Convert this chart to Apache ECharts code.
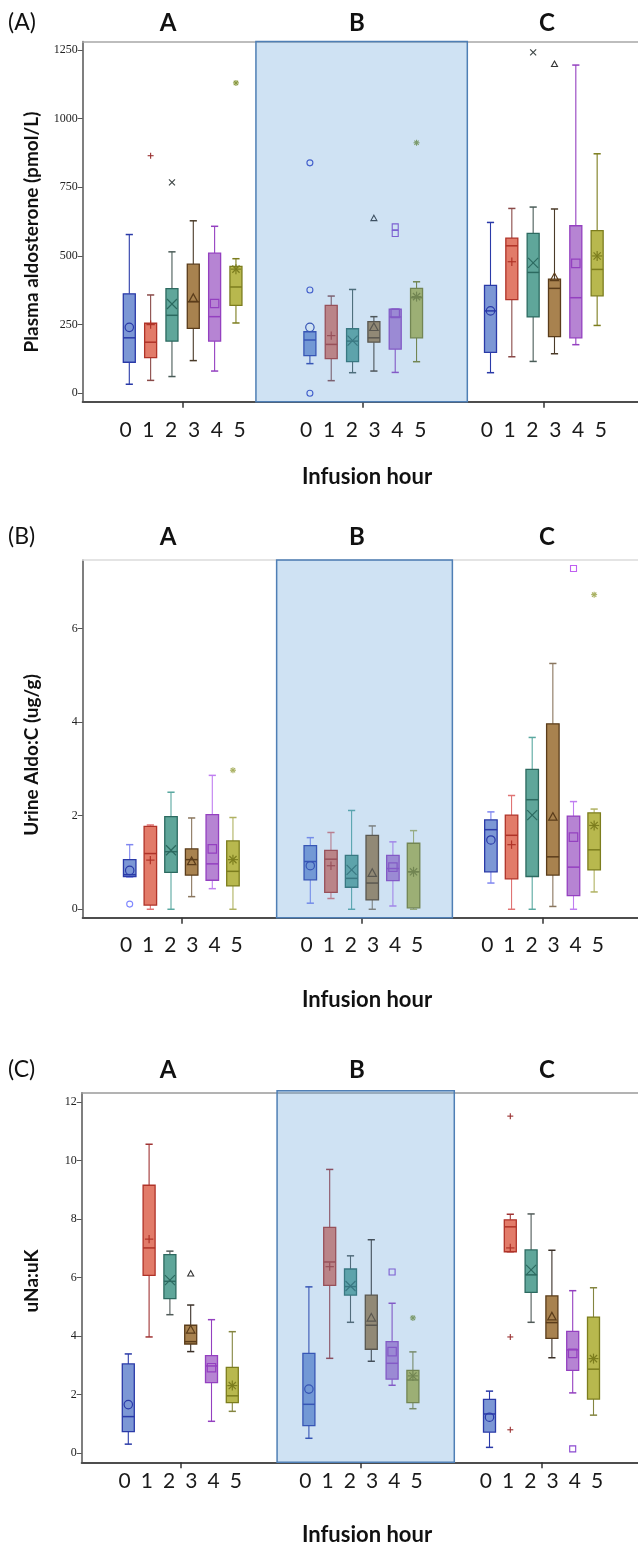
<!DOCTYPE html>
<html>
<head>
<meta charset="utf-8">
<script src="https://cdn.jsdelivr.net/npm/echarts@6/dist/echarts.min.js"></script>
<style>
html,body{margin:0;padding:0;background:#fff}
#chart{width:638px;height:1545px}
</style>
</head>
<body>
<div id="chart"></div>
<script>
// ---- data ----
const hours = ['0', '1', '2', '3', '4', '5'];
const groups = ['A', 'B', 'C'];
const panelTags = ['(A)', '(B)', '(C)'];
const yTitles = ['Plasma aldosterone (pmol/L)', 'Urine Aldo:C (ug/g)', 'uNa:uK'];
const xTitle = 'Infusion hour';

// box statistics per group, per hour: [lower whisker, Q1, median, Q3, upper whisker]
const aldoBoxes = [
  [[33, 113, 202, 362, 578], [47, 130, 186, 255, 358], [61, 190, 284, 381, 515],
   [119, 236, 333, 470, 628], [81, 190, 279, 510, 608], [256, 320, 387, 462, 490]],
  [[108, 137, 194, 224, 224], [46, 126, 178, 320, 354], [75, 115, 190, 235, 378],
   [81, 186, 202, 261, 279], [76, 161, 278, 306, 306], [115, 202, 348, 382, 406]],
  [[75, 149, 300, 393, 622], [133, 341, 537, 565, 673], [116, 278, 440, 582, 678],
   [144, 206, 382, 416, 671], [177, 202, 348, 610, 1195], [247, 355, 451, 592, 872]]
];
const aldoMeans = [
  [240, 250, 325, 346, 327, 452],
  [240, 210, 192, 240, 291, 352],
  [300, 479, 475, 422, 473, 500]
];
// [group, hour, value]
const aldoOutliers = [
  [0, 1, 865], [0, 2, 768], [0, 5, 1130],
  [1, 0, 839], [1, 0, 376], [1, 0, 0], [1, 3, 637], [1, 4, 606], [1, 4, 582], [1, 5, 912],
  [2, 2, 1241], [2, 3, 1198]
];
const aldoTicks = [0, 250, 500, 750, 1000, 1250];

const urineBoxes = [
  [[0.69, 0.70, 0.74, 1.06, 1.38], [0.0, 0.09, 1.19, 1.77, 1.80], [0.0, 0.79, 1.23, 1.98, 2.50],
   [0.27, 0.73, 1.06, 1.29, 1.95], [0.44, 0.62, 0.97, 2.02, 2.86], [0.0, 0.50, 0.81, 1.46, 1.96]],
  [[0.13, 0.63, 1.02, 1.36, 1.53], [0.23, 0.36, 1.07, 1.26, 1.64], [0.0, 0.47, 0.66, 1.15, 2.11],
   [0.0, 0.20, 0.56, 1.58, 1.78], [0.07, 0.61, 0.87, 1.15, 1.44], [0.0, 0.03, 0.80, 1.41, 1.68]],
  [[0.56, 0.80, 1.70, 1.91, 2.08], [0.0, 0.65, 1.58, 2.01, 2.43], [0.0, 0.70, 2.34, 2.99, 3.67],
   [0.06, 0.73, 1.12, 3.96, 5.25], [0.0, 0.29, 0.90, 1.99, 2.30], [0.37, 0.84, 1.27, 2.06, 2.14]]
];
const urineMeans = [
  [0.83, 1.05, 1.26, 1.02, 1.29, 1.06],
  [0.93, 0.93, 0.84, 0.77, 0.90, 0.80],
  [1.48, 1.38, 2.01, 1.97, 1.54, 1.79]
];
const urineOutliers = [
  [0, 0, 0.11], [0, 5, 2.97],
  [2, 4, 7.28], [2, 5, 6.72]
];
const urineTicks = [0, 2, 4, 6];

const naKBoxes = [
  [[0.31, 0.74, 1.25, 3.05, 3.39], [3.97, 6.07, 7.01, 9.15, 10.55], [4.73, 5.28, 5.87, 6.78, 6.90],
   [3.47, 3.73, 3.81, 4.37, 5.06], [1.09, 2.41, 2.98, 3.33, 4.56], [1.43, 1.73, 1.96, 2.93, 4.15]],
  [[0.51, 0.94, 1.67, 3.41, 5.68], [3.24, 5.73, 6.53, 7.71, 9.69], [4.47, 5.40, 5.69, 6.29, 6.74],
   [3.14, 3.55, 4.37, 5.40, 7.29], [2.32, 2.53, 3.07, 3.81, 5.12], [1.52, 1.73, 2.50, 2.83, 3.46]],
  [[0.20, 0.72, 1.34, 1.84, 2.12], [6.88, 6.88, 7.73, 7.97, 8.16], [4.47, 5.49, 6.09, 6.94, 8.17],
   [3.26, 3.92, 4.46, 5.37, 6.93], [2.06, 2.83, 3.53, 4.16, 5.55], [1.30, 1.85, 2.87, 4.65, 5.65]]
];
const naKMeans = [
  [1.66, 7.31, 5.91, 4.21, 2.92, 2.31],
  [2.19, 6.37, 5.71, 4.62, 3.47, 2.64],
  [1.23, 7.01, 6.26, 4.66, 3.41, 3.23]
];
const naKOutliers = [
  [0, 3, 6.13],
  [1, 4, 6.19], [1, 5, 4.62],
  [2, 1, 11.51], [2, 1, 3.97], [2, 1, 0.80], [2, 4, 0.15]
];
const naKTicks = [0, 2, 4, 6, 8, 10, 12];

// ---- styling per hour ----
const hourFill = ['#7c97d5', '#e27b69', '#5fa69a', '#a8824f', '#b684d3', '#b8b84e'];
const hourEdge = ['#2a3aa8', '#b03328', '#2c6a60', '#5a3c1a', '#9440c0', '#7c7d1e'];
const hourShape = ['circle', 'plus', 'cross', 'triangle', 'square', 'star'];

// ---- layout of the three panels ----
const GROUP_SPAN = 180.6;
const LABEL_SPREAD = 1.07;
const layouts = [
  { boxes: aldoBoxes, means: aldoMeans, outliers: aldoOutliers, ticks: aldoTicks,
    left: 82.7, top: 41.5, bottom: 401.7, x0: 129.3, step: 21.33, yMin: -30.6, yMax: 1280.8,
    bw: 12, shade: [-5.03, 4.88], shadeRaise: 0, labelMargin: 18, titleY: 23, xNameY: 477, yNameY: 232,
    topLine: '#a8a8a8', whisker: ['#2a3aa8', '#8a4a48', '#4a5c58', '#4a3a28', '#9440c0', '#7c7d1e'],
    outlier: ['#3a48c8', '#9a3030', '#3e4646', '#333333', '#8a48d0', '#8a9a40'] },
  { boxes: urineBoxes, means: urineMeans, outliers: urineOutliers, ticks: urineTicks,
    left: 82.7, top: 560, bottom: 917.7, x0: 129.7, step: 20.65, yMin: -0.18, yMax: 7.46,
    bw: 12.5, shade: [-4.13, 4.38], shadeRaise: 0, labelMargin: 17, titleY: 537, xNameY: 1000, yNameY: 755,
    topLine: '#dcdcdc', whisker: ['#7f86f0', '#e07474', '#5aa8a0', '#8a765e', '#c07ef0', '#b0b262'],
    outlier: ['#8088ff', '#e07070', '#5aa8a0', '#8a765e', '#c060f0', '#a8b060'] },
  { boxes: naKBoxes, means: naKMeans, outliers: naKOutliers, ticks: naKTicks,
    left: 81.7, top: 1092.7, bottom: 1462.3, x0: 128.3, step: 20.8, yMin: -0.31, yMax: 12.31,
    bw: 12, shade: [-4.03, 4.49], shadeRaise: 2, labelMargin: 8, titleY: 1070, xNameY: 1535, yNameY: 1281,
    topLine: '#9a9a9a', whisker: ['#2a3aa8', '#a03434', '#505a58', '#3a3028', '#9440c0', '#848540'],
    outlier: ['#3a48c8', '#9a3030', '#3e4646', '#333333', '#8a48d0', '#8a9a40'] }
];

const WIDTH = 638;
const TITLE_X = [168, 357, 547];

function markerShapes(shape, cx, cy, r, color, lw) {
  const st = { stroke: color, fill: 'none', lineWidth: lw };
  const line = (x1, y1, x2, y2) => ({ type: 'line', shape: { x1, y1, x2, y2 }, style: st });
  switch (shape) {
    case 'circle': return [{ type: 'circle', shape: { cx, cy, r }, style: st }];
    case 'plus': return [line(cx - r, cy, cx + r, cy), line(cx, cy - r, cx, cy + r)];
    case 'cross': return [line(cx - r, cy - r, cx + r, cy + r), line(cx - r, cy + r, cx + r, cy - r)];
    case 'triangle': return [{ type: 'polygon', shape: { points: [[cx, cy - r * 1.05], [cx + r, cy + r * 0.75], [cx - r, cy + r * 0.75]] }, style: st }];
    case 'square': return [{ type: 'rect', shape: { x: cx - r, y: cy - r, width: 2 * r, height: 2 * r }, style: st }];
    case 'star': {
      const d = r * 0.72;
      return [line(cx - r, cy, cx + r, cy), line(cx, cy - r, cx, cy + r),
              line(cx - d, cy - d, cx + d, cy + d), line(cx - d, cy + d, cx + d, cy - d)];
    }
  }
  return [];
}

const grid = [], xAxis = [], yAxis = [], series = [], graphic = [];

layouts.forEach((L, p) => {
  const gap = GROUP_SPAN / L.step;
  const xMin = (L.left - L.x0) / L.step;
  const xMax = (WIDTH - L.x0) / L.step;
  const xPos = (g, h) => g * gap + h;
  // hour labels sit slightly wider apart than the boxes
  const labelValues = [];
  groups.forEach((_, g) => hours.forEach((_, h) => labelValues.push(xPos(g, 2.5 + (h - 2.5) * LABEL_SPREAD))));
  const groupCenters = groups.map((_, g) => xPos(g, 2.5));

  grid.push({ left: L.left, top: L.top, width: WIDTH - L.left, height: L.bottom - L.top, containLabel: false });

  xAxis.push({
    gridIndex: p, type: 'value', min: xMin, max: xMax, position: 'bottom',
    axisLine: { show: true, onZero: false, lineStyle: { color: '#4d4d4d', width: 2 } },
    axisTick: { show: true, customValues: groupCenters, length: 6, inside: false, lineStyle: { color: '#333', width: 1.5 } },
    axisLabel: {
      show: true, customValues: labelValues, margin: L.labelMargin,
      fontFamily: 'Lato', fontSize: 21, color: '#1a1a1a',
      formatter: v => {
        const g = Math.round((v - 2.5) / gap);
        return hours[Math.round(2.5 + (v - g * gap - 2.5) / LABEL_SPREAD)];
      }
    },
    splitLine: { show: false }
  });
  xAxis.push({
    gridIndex: p, type: 'value', min: xMin, max: xMax, position: 'top',
    axisLine: { show: true, onZero: false, lineStyle: { color: L.topLine, width: 1.5 } },
    axisTick: { show: false }, axisLabel: { show: false }, splitLine: { show: false }
  });

  yAxis.push({
    gridIndex: p, type: 'value', min: L.yMin, max: L.yMax,
    axisLine: { show: true, onZero: false, lineStyle: { color: '#555', width: 1.5 } },
    axisTick: { show: true, customValues: L.ticks, length: 5, lineStyle: { color: '#555' } },
    axisLabel: { show: true, customValues: L.ticks, margin: 5, fontFamily: 'Liberation Serif', fontSize: 12, color: '#222',
      formatter: v => String(v) },
    splitLine: { show: false }
  });

  // box data: [x, lo, q1, med, q3, hi, mean, hour]
  const boxData = [];
  L.boxes.forEach((rows, g) => rows.forEach((s, h) => {
    boxData.push([xPos(g, h), s[0], s[1], s[2], s[3], s[4], L.means[g][h], h]);
  }));

  series.push({
    type: 'custom', xAxisIndex: 2 * p, yAxisIndex: p, z: 2, silent: true,
    data: boxData,
    encode: { x: 0, y: [1, 5] },
    renderItem: (params, api) => {
      const x = api.value(0), h = api.value(7);
      const pLo = api.coord([x, api.value(1)]);
      const pQ1 = api.coord([x, api.value(2)]);
      const pMed = api.coord([x, api.value(3)]);
      const pQ3 = api.coord([x, api.value(4)]);
      const pHi = api.coord([x, api.value(5)]);
      const pMean = api.coord([x, api.value(6)]);
      const cx = pMed[0], hw = L.bw / 2, cap = 3.6;
      const wc = L.whisker[h];
      const wst = { stroke: wc, lineWidth: 1.1 };
      const children = [
        { type: 'line', shape: { x1: cx, y1: pHi[1], x2: cx, y2: pQ3[1] }, style: wst },
        { type: 'line', shape: { x1: cx, y1: pQ1[1], x2: cx, y2: pLo[1] }, style: wst },
        { type: 'line', shape: { x1: cx - cap, y1: pHi[1], x2: cx + cap, y2: pHi[1] }, style: { stroke: wc, lineWidth: 1.5 } },
        { type: 'line', shape: { x1: cx - cap, y1: pLo[1], x2: cx + cap, y2: pLo[1] }, style: { stroke: wc, lineWidth: 1.5 } },
        { type: 'rect', shape: { x: cx - hw, y: pQ3[1], width: L.bw, height: pQ1[1] - pQ3[1] },
          style: { fill: hourFill[h], stroke: hourEdge[h], lineWidth: 1.3 } },
        { type: 'line', shape: { x1: cx - hw, y1: pMed[1], x2: cx + hw, y2: pMed[1] }, style: { stroke: hourEdge[h], lineWidth: 1.5 } }
      ];
      const r = hourShape[h] === 'cross' || hourShape[h] === 'star' ? 5 : 4.2;
      markerShapes(hourShape[h], cx, pMean[1], r, hourEdge[h], 1.2).forEach(c => children.push(c));
      return { type: 'group', children };
    }
  });

  const outData = L.outliers.map(o => [xPos(o[0], o[1]), o[2], o[1]]);
  series.push({
    type: 'custom', xAxisIndex: 2 * p, yAxisIndex: p, z: 2, silent: true,
    data: outData,
    encode: { x: 0, y: 1 },
    renderItem: (params, api) => {
      const pt = api.coord([api.value(0), api.value(1)]);
      const h = api.value(2);
      return { type: 'group', children: markerShapes(hourShape[h], pt[0], pt[1], 3, L.outlier[h], 1.1) };
    }
  });

  // translucent band over the middle group
  series.push({
    type: 'custom', xAxisIndex: 2 * p, yAxisIndex: p, z: 5, silent: true, clip: false,
    data: [[xPos(1, 2.5)]],
    encode: { x: 0 },
    renderItem: (params, api) => {
      const c = api.value(0);
      const x1 = api.coord([c + L.shade[0], 0])[0];
      const x2 = api.coord([c + L.shade[1], 0])[0];
      const cs = params.coordSys;
      return {
        type: 'rect',
        shape: { x: x1, y: cs.y - L.shadeRaise, width: x2 - x1, height: cs.height + L.shadeRaise },
        style: { fill: 'rgba(91,155,213,0.29)', stroke: '#4f7fb5', lineWidth: 1.5 }
      };
    }
  });

  // headings and axis titles
  graphic.push({ type: 'text', x: 8, y: L.titleY, style: { text: panelTags[p], font: '23px Lato', fill: '#111', align: 'left', verticalAlign: 'middle' } });
  groups.forEach((gname, g) => {
    graphic.push({ type: 'text', x: TITLE_X[g], y: L.titleY, style: { text: gname, font: 'bold 24px Lato', fill: '#111', align: 'center', verticalAlign: 'middle' } });
  });
  graphic.push({ type: 'text', x: 367, y: L.xNameY, style: { text: xTitle, font: 'bold 22px Lato', fill: '#111', align: 'center', verticalAlign: 'middle' } });
  graphic.push({ type: 'text', x: 32, y: L.yNameY, rotation: Math.PI / 2, style: { text: yTitles[p], font: 'bold 19px Lato', fill: '#111', align: 'center', verticalAlign: 'middle' } });
});

const chart = echarts.init(document.getElementById('chart'), null, { renderer: 'canvas' });
chart.setOption({ animation: false, backgroundColor: '#fff', grid, xAxis, yAxis, series, graphic });
</script>
</body>
</html>
